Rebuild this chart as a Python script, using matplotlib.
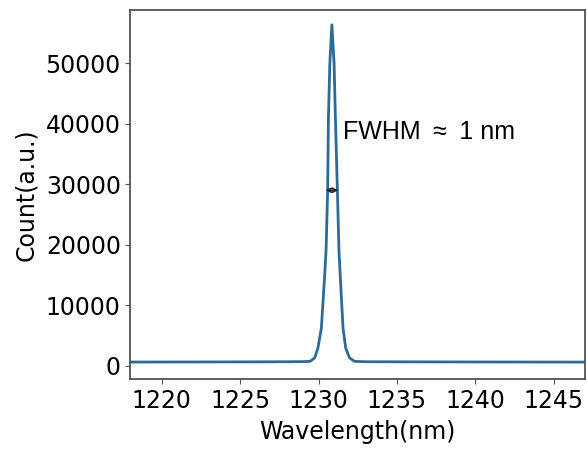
import numpy as np
import matplotlib.pyplot as plt

# Daten
wavelength = [1218.0, 1222.0, 1226.0, 1228.0, 1229.0, 1229.45, 1229.75, 1229.96,
              1230.18, 1230.38, 1230.48, 1230.58, 1230.63, 1230.72, 1230.85,
              1230.99, 1231.07, 1231.20, 1231.30, 1231.39, 1231.56, 1231.73,
              1231.98, 1232.30, 1233.0, 1236.0, 1240.0, 1244.0, 1247.0]
counts = [650, 660, 680, 700, 720, 760, 1320, 2970,
          6270, 14520, 19140, 29040, 41000, 50000, 56300,
          50000, 41400, 29040, 19140, 14520, 6270, 2970,
          1320, 760, 700, 680, 660, 650, 640]

fwhm_left = 1230.45
fwhm_right = 1231.25
fwhm_y = 29000
label_x = 1231.55
label_y = 38600

fig = plt.figure(figsize=(5.87, 4.49), dpi=100)
ax = fig.add_axes([0.2223, 0.1559, 0.9966 - 0.2223, 0.9777 - 0.1559])

ax.plot(wavelength, counts, color='#2d6a96', lw=2.0)

# FWHM Pfeil
ax.annotate('', xy=(fwhm_left, fwhm_y), xytext=(fwhm_right, fwhm_y),
            arrowprops=dict(arrowstyle='<->', color='#222222', lw=1.2,
                            mutation_scale=7, shrinkA=0, shrinkB=0))
ax.text(label_x, label_y, 'FWHM\u2002\u2248\u20021 nm', fontsize=18,
        family='Liberation Sans', va='center', ha='left')

ax.set_xlim(1218, 1247)
ax.set_ylim(-2150, 58750)
ax.set_xticks([1220, 1225, 1230, 1235, 1240, 1245])
ax.set_yticks([0, 10000, 20000, 30000, 40000, 50000])
ax.tick_params(labelsize=17, color='#555555')
ax.set_xlabel('Wavelength(nm)', fontsize=17, labelpad=5)
ax.set_ylabel('Count(a.u.)', fontsize=17, labelpad=5)
for s in ax.spines.values():
    s.set_color('#444444')
    s.set_linewidth(1.2)

plt.savefig('out.png', dpi=100)
